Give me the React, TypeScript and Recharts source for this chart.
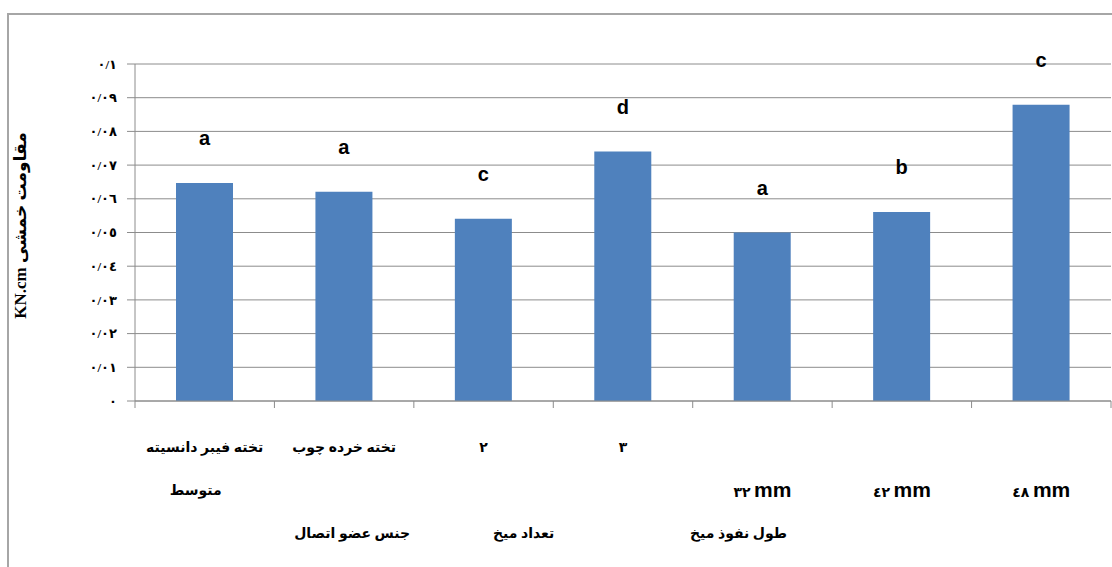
import { BarChart, Bar, XAxis, YAxis, CartesianGrid, LabelList, Label } from 'recharts';

// categories (full names) and how they are split over the two label rows
const categories = ['تخته فیبر دانسیته متوسط', 'تخته خرده چوب', '٢', '٣', '٣٢ mm', '٤٢ mm', '٤٨ mm'];
const labelRow1 = ['تخته فیبر دانسیته', 'تخته خرده چوب', '٢', '٣', '', '', ''];
const labelRow2 = ['متوسط', '', '', '', '٣٢ mm', '٤٢ mm', '٤٨ mm'];
const groupNames = ['جنس عضو اتصال', 'تعداد میخ', 'طول نفوذ میخ'];
const groupAt = [1, 2, 4];

const strength = [0.0647, 0.0621, 0.0541, 0.074, 0.05, 0.0561, 0.0879];
const letters = ['a', 'a', 'c', 'd', 'a', 'b', 'c'];
const yTicks = [0, 0.01, 0.02, 0.03, 0.04, 0.05, 0.06, 0.07, 0.08, 0.09, 0.1];

const data = categories.map((name, i) => ({ name, value: strength[i], letter: letters[i] }));

const gray = '#8c8c8c';
const arabicFont = "'Liberation Serif', 'DejaVu Sans', serif";
const groupShift = [8, 40, -24];

const toArabicDigits = (s: string) => s.replace(/[0-9]/g, (d) => String.fromCharCode(0x0660 + Number(d)));

const formatY = (v: number) => {
  const s = v === 0 ? '0' : String(Number(v.toFixed(2)));
  return toArabicDigits(s.replace('.', '/'));
};

const CategoryTick = (props: any) => {
  const { x, y, payload } = props;
  const i = payload?.index ?? props.index;
  const half = payload?.offset || 69.7;
  const r2 = labelRow2[i];
  const g = groupAt.indexOf(i);
  return (
    <g>
      <line x1={x - half} x2={x - half} y1={y} y2={y + 7} stroke={gray} />
      {i === categories.length - 1 && <line x1={x + half} x2={x + half} y1={y} y2={y + 7} stroke={gray} />}
      {labelRow1[i] && (
        <text x={x} y={y + 51} textAnchor="middle" fontFamily={arabicFont} fontWeight="bold" fontSize={14} fill="#000">
          {labelRow1[i]}
        </text>
      )}
      {r2 && r2.includes('mm') ? (
        <text x={x} y={y + 96} textAnchor="middle" fontWeight="bold" fill="#000">
          <tspan fontFamily={arabicFont} fontSize={14}>{r2.split(' ')[0]} </tspan>
          <tspan fontFamily="'Liberation Sans', Arial, sans-serif" fontSize={21}>mm</tspan>
        </text>
      ) : r2 ? (
        <text x={x - 9} y={y + 94} textAnchor="middle" fontFamily={arabicFont} fontWeight="bold" fontSize={14} fill="#000">
          {r2}
        </text>
      ) : null}
      {g >= 0 && (
        <text x={x + groupShift[g]} y={y + 137} textAnchor="middle" fontFamily={arabicFont} fontWeight="bold" fontSize={14} fill="#000">
          {groupNames[g]}
        </text>
      )}
    </g>
  );
};

const YTitle = (props: any) => {
  const vb = props.viewBox || { x: 75, y: 64, height: 337 };
  const cx = vb.x - 55;
  const cy = vb.y + vb.height / 2 - 7;
  return (
    <text x={cx} y={cy} transform={`rotate(-90 ${cx} ${cy})`} textAnchor="middle" dominantBaseline="central"
      fontFamily={arabicFont} fontWeight="bold" fontSize={17} fill="#000">
      KN.cm مقاومت خمشی
    </text>
  );
};

export default function App() {
  return (
    <div style={{ position: 'absolute', left: 0, top: 0, width: 1112, height: 567, background: '#fff', overflow: 'hidden' }}>
      <div style={{ position: 'absolute', left: 7, top: 13, width: 1105, height: 554, borderLeft: '2px solid #a6a6a6', borderTop: '2px solid #a6a6a6', boxSizing: 'border-box' }} />
      <div style={{ position: 'absolute', left: 0, top: 0 }}>
        <BarChart width={1112} height={567} data={data} margin={{ top: 64, right: 1, bottom: 26, left: 75 }}>
          <CartesianGrid vertical={false} stroke={gray} strokeDasharray="" />
          <XAxis dataKey="name" axisLine={{ stroke: gray }} tickLine={false} tickSize={0} tickMargin={0}
            height={140} interval={0} tick={<CategoryTick />} />
          <YAxis domain={[0, 0.1]} ticks={yTicks} width={60} axisLine={{ stroke: gray }} tickLine={{ stroke: gray }}
            tickSize={8} tickMargin={10} tickFormatter={formatY}
            tick={{ fill: '#000', fontSize: 13, fontWeight: 'bold', fontFamily: arabicFont }}>
            <Label content={<YTitle />} />
          </YAxis>
          <Bar dataKey="value" fill="#4f81bd" barSize={57} isAnimationActive={false}>
            <LabelList dataKey="letter" position="top" offset={38}
              style={{ fontFamily: "'Liberation Sans', Arial, sans-serif", fontWeight: 'bold', fontSize: 20, fill: '#000' }} />
          </Bar>
        </BarChart>
      </div>
    </div>
  );
}
